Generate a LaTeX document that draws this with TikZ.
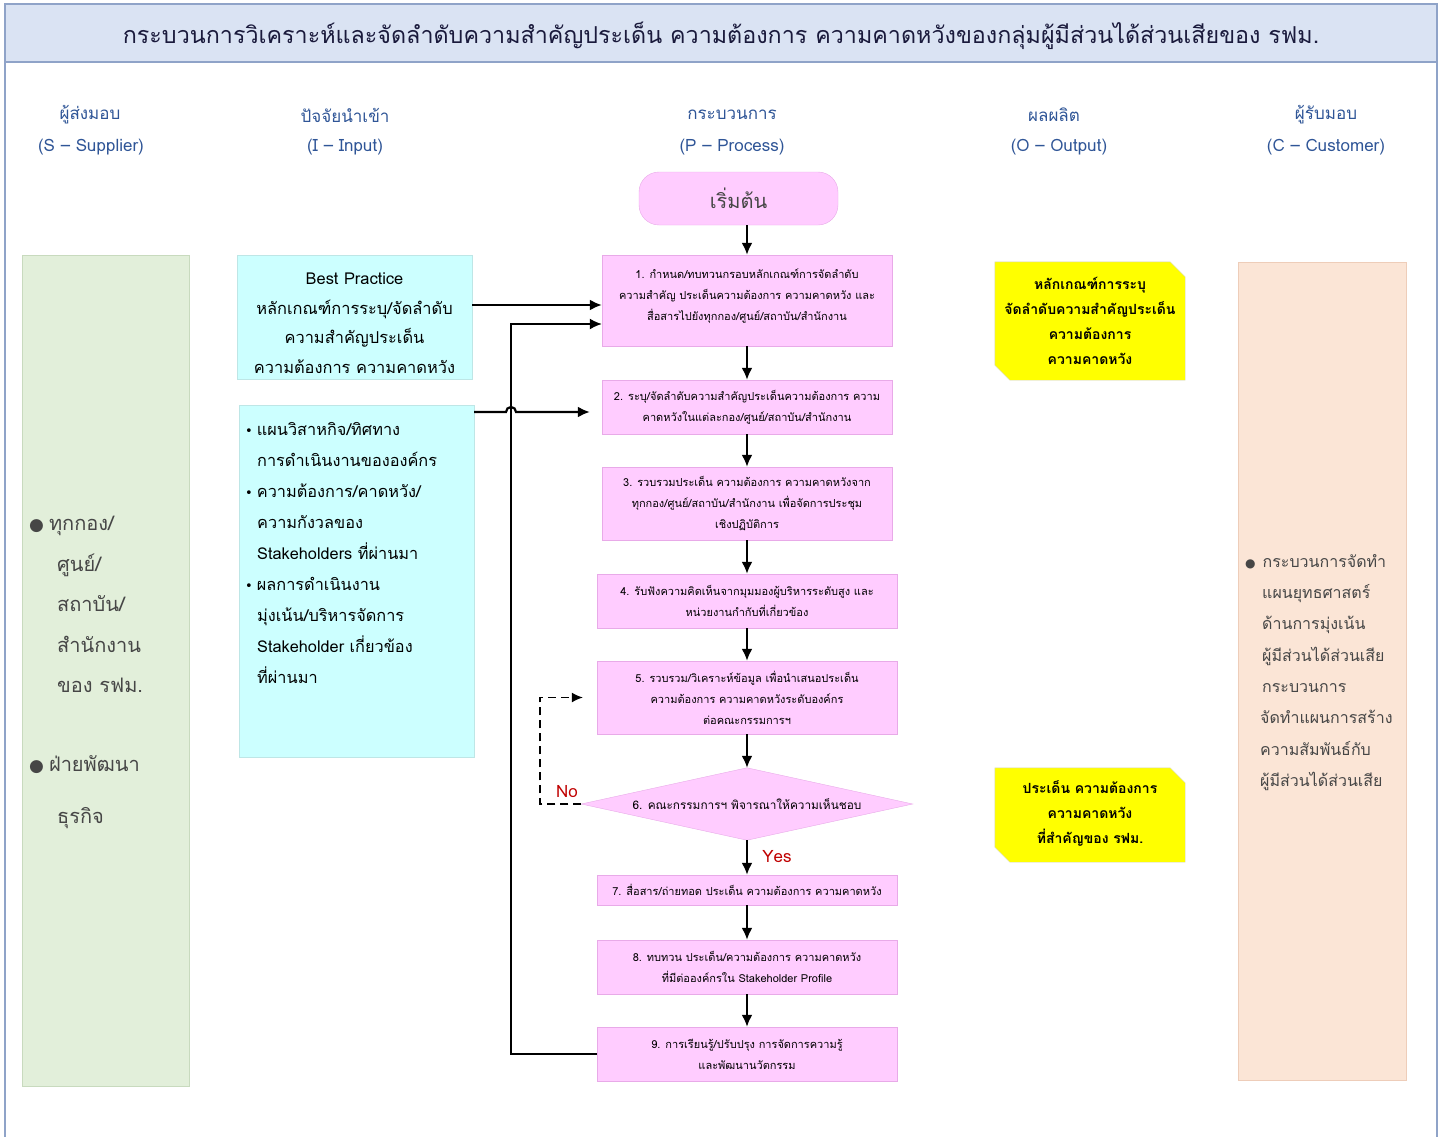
\documentclass[tikz,border=0pt]{standalone}
\usepackage{fontspec}
\setmainfont[Script=Thai]{Loma}
\newfontfamily\symf{DejaVu Sans}
\usetikzlibrary{arrows.meta,shapes.geometric,calc}
\definecolor{titlefill}{RGB}{218,227,243}
\definecolor{framec}{RGB}{143,163,200}
\definecolor{titletext}{RGB}{26,26,60}
\definecolor{headc}{RGB}{47,85,151}
\definecolor{pinkf}{RGB}{255,204,255}
\definecolor{pinkd}{RGB}{232,170,232}
\definecolor{cyanf}{RGB}{204,255,255}
\definecolor{cyand}{RGB}{190,230,230}
\definecolor{greenf}{RGB}{226,239,218}
\definecolor{greend}{RGB}{200,218,190}
\definecolor{peachf}{RGB}{251,229,214}
\definecolor{peachd}{RGB}{238,205,185}
\definecolor{yellowf}{RGB}{255,255,0}
\definecolor{yellowd}{RGB}{215,215,200}
\definecolor{labred}{RGB}{192,0,0}
\definecolor{graytext}{RGB}{70,70,70}
\tikzset{
  pbox/.style={draw=pinkd,fill=pinkf,align=center,inner sep=0pt,font=\fontsize{11}{21}\selectfont},
  head/.style={text=headc,font=\fontsize{17}{20}\selectfont,inner sep=0pt},
  flow/.style={line width=2.2pt,-{Latex[length=12pt,width=11pt]}},
  feed/.style={line width=1.6pt,-{Latex[length=12pt,width=11pt]}},
  nodash/.style={line width=1.3pt,dash pattern=on 8pt off 5pt,-{Latex[length=11pt,width=10pt]}},
  lab/.style={text=labred,font=\fontsize{17}{20}\selectfont,inner sep=0pt},
  outtext/.style={align=center,inner sep=0pt,font=\fontsize{14}{25}\selectfont\bfseries},
}
\begin{document}
\begin{tikzpicture}[x=1pt,y=-1pt]
\useasboundingbox (0,0) rectangle (1442,1137);
\fill[white] (0,0) rectangle (1442,1137);
% frame and title
\fill[titlefill] (5,4) rectangle (1437,62);
\draw[framec,line width=1.2pt] (5,1137) -- (5,4) -- (1437,4) -- (1437,1137);
\draw[framec,line width=1.2pt] (5,62) -- (1437,62);
\node[text=titletext,font=\fontsize{23.3}{26}\selectfont,inner sep=0pt] (title) at (721,36) {กระบวนการวิเคราะห์และจัดลำดับความสำคัญประเด็น ความต้องการ ความคาดหวังของกลุ่มผู้มีส่วนได้ส่วนเสียของ รฟม.};
% headers
\node[head] (hs1) at (90,115) {ผู้ส่งมอบ};
\node[head] (hs2) at (91,147) {(S – Supplier)};
\node[head] (hi1) at (345,115) {ปัจจัยนำเข้า};
\node[head] (hi2) at (345,147) {(I – Input)};
\node[head] (hp1) at (732,115) {กระบวนการ};
\node[head] (hp2) at (732,147) {(P – Process)};
\node[head] (ho1) at (1054,115) {ผลผลิต};
\node[head] (ho2) at (1059,147) {(O – Output)};
\node[head] (hc1) at (1326,115) {ผู้รับมอบ};
\node[head] (hc2) at (1326,147) {(C – Customer)};
% supplier column
\node[draw=greend,fill=greenf,minimum width=167pt,minimum height=831pt,inner sep=0pt] (sup) at (105.5,670.5) {};
\node[anchor=north west,align=left,inner sep=0pt,text=graytext,font=\fontsize{20}{40.5}\selectfont] (suptext) at (29,516) {{\symf\fontsize{17}{40}\selectfont ●}\hspace{5pt}ทุกกอง/\\
\hspace*{28pt}ศูนย์/\\
\hspace*{28pt}สถาบัน/\\
\hspace*{28pt}สำนักงาน\\
\hspace*{28pt}ของ รฟม.\\[38pt]
{\symf\fontsize{17}{40}\selectfont ●}\hspace{5pt}ฝ่ายพัฒนา\\[12pt]
\hspace*{28pt}ธุรกิจ};
% input column
\node[draw=cyand,fill=cyanf,minimum width=235pt,minimum height=124pt,inner sep=0pt] (in1) at (354.5,317) {};
\node[align=center,inner sep=0pt,font=\fontsize{16.4}{29.5}\selectfont] (in1text) at ([yshift=-6pt]in1.center) {Best Practice\\หลักเกณฑ์การระบุ/จัดลำดับ\\ความสำคัญประเด็น\\ความต้องการ ความคาดหวัง};
\node[draw=cyand,fill=cyanf,minimum width=235pt,minimum height=352pt,inner sep=0pt] (in2) at (356.5,581) {};
\node[anchor=north west,align=left,inner sep=0pt,font=\fontsize{16.3}{31}\selectfont] (in2text) at (245,422) {{\symf\fontsize{13}{31}\selectfont •}\hspace{4pt}แผนวิสาหกิจ/ทิศทาง\\
\hspace*{12pt}การดำเนินงานขององค์กร\\
{\symf\fontsize{13}{31}\selectfont •}\hspace{4pt}ความต้องการ/คาดหวัง/\\
\hspace*{12pt}ความกังวลของ\\
\hspace*{12pt}Stakeholders ที่ผ่านมา\\
{\symf\fontsize{13}{31}\selectfont •}\hspace{4pt}ผลการดำเนินงาน\\
\hspace*{12pt}มุ่งเน้น/บริหารจัดการ\\
\hspace*{12pt}Stakeholder เกี่ยวข้อง\\
\hspace*{12pt}ที่ผ่านมา};
% customer column
\node[draw=peachd,fill=peachf,minimum width=168pt,minimum height=818pt,inner sep=0pt] (cus) at (1322,671) {};
\node[anchor=north west,align=left,inner sep=0pt,text=graytext,font=\fontsize{16}{31.3}\selectfont] (custext) at (1245,554) {{\symf\fontsize{12}{31}\selectfont ●}\hspace{7pt}กระบวนการจัดทำ\\
\hspace*{17pt}แผนยุทธศาสตร์\\
\hspace*{17pt}ด้านการมุ่งเน้น\\
\hspace*{17pt}ผู้มีส่วนได้ส่วนเสีย\\
\hspace*{17pt}กระบวนการ\\
\hspace*{15pt}จัดทำแผนการสร้าง\\
\hspace*{15pt}ความสัมพันธ์กับ\\
\hspace*{15pt}ผู้มีส่วนได้ส่วนเสีย};
% output column
\node[minimum width=190pt,minimum height=118pt,inner sep=0pt] (out1) at (1090,321) {};
\fill[yellowf,draw=yellowd] ($(out1.north west)$) -- ($(out1.north east)+(-15,0)$) -- ($(out1.north east)+(0,15)$) -- (out1.south east) -- ($(out1.south west)+(15,0)$) -- ($(out1.south west)+(0,-15)$) -- cycle;
\node[outtext] (out1text) at (out1.center) {หลักเกณฑ์การระบุ\\จัดลำดับความสำคัญประเด็น\\ความต้องการ\\ความคาดหวัง};
\node[minimum width=190pt,minimum height=94pt,inner sep=0pt] (out2) at (1090,815) {};
\fill[yellowf,draw=yellowd] ($(out2.north west)$) -- ($(out2.north east)+(-15,0)$) -- ($(out2.north east)+(0,15)$) -- (out2.south east) -- ($(out2.south west)+(15,0)$) -- ($(out2.south west)+(0,-15)$) -- cycle;
\node[outtext] (out2text) at ([yshift=2pt]out2.center) {ประเด็น ความต้องการ\\ความคาดหวัง\\ที่สำคัญของ รฟม.};
% process column
\node[draw=pinkd,fill=pinkf,rounded corners=20pt,minimum width=199pt,minimum height=53pt,inner sep=0pt,text=graytext,font=\fontsize{20}{24}\selectfont] (start) at (738.5,198.5) {เริ่มต้น};
\node[pbox,minimum width=290pt,minimum height=91pt] (b1) at (747,300.5) {1. กำหนด/ทบทวนกรอบหลักเกณฑ์การจัดลำดับ\\ความสำคัญ ประเด็นความต้องการ ความคาดหวัง และ\\สื่อสารไปยังทุกกอง/ศูนย์/สถาบัน/สำนักงาน\\[-9pt]\mbox{}};
\node[pbox,minimum width=290pt,minimum height=54pt] (b2) at (747,407) {2. ระบุ/จัดลำดับความสำคัญประเด็นความต้องการ ความ\\คาดหวังในแต่ละกอง/ศูนย์/สถาบัน/สำนักงาน};
\node[pbox,minimum width=290pt,minimum height=73pt] (b3) at (747,503.5) {3. รวบรวมประเด็น ความต้องการ ความคาดหวังจาก\\ทุกกอง/ศูนย์/สถาบัน/สำนักงาน เพื่อจัดการประชุม\\เชิงปฏิบัติการ};
\node[pbox,minimum width=300pt,minimum height=54pt] (b4) at (747,601) {4. รับฟังความคิดเห็นจากมุมมองผู้บริหารระดับสูง และ\\หน่วยงานกำกับที่เกี่ยวข้อง};
\node[pbox,minimum width=300pt,minimum height=73pt] (b5) at (747,697.5) {5. รวบรวม/วิเคราะห์ข้อมูล เพื่อนำเสนอประเด็น\\ความต้องการ ความคาดหวังระดับองค์กร\\ต่อคณะกรรมการฯ};
\node[minimum width=331pt,minimum height=72pt,inner sep=0pt] (d6) at (747,804) {};
\filldraw[draw=pinkd,fill=pinkf] (d6.north) -- (d6.east) -- (d6.south) -- (d6.west) -- cycle;
\node[inner sep=0pt,font=\fontsize{11.8}{21}\selectfont] (d6text) at (d6.center) {6. คณะกรรมการฯ พิจารณาให้ความเห็นชอบ};
\node[pbox,minimum width=300pt,minimum height=30pt] (b7) at (747,890) {7. สื่อสาร/ถ่ายทอด ประเด็น ความต้องการ ความคาดหวัง};
\node[pbox,minimum width=300pt,minimum height=54pt] (b8) at (747,967) {8. ทบทวน ประเด็น/ความต้องการ ความคาดหวัง\\ที่มีต่อองค์กรใน Stakeholder Profile};
\node[pbox,minimum width=300pt,minimum height=54pt] (b9) at (747,1054) {9. การเรียนรู้/ปรับปรุง การจัดการความรู้\\และพัฒนานวัตกรรม};
% vertical flow
\draw[flow] (b1.north |- start.south) -- (b1.north);
\draw[flow] (b1.south) -- (b2.north);
\draw[flow] (b2.south) -- (b3.north);
\draw[flow] (b3.south) -- (b4.north);
\draw[flow] (b4.south) -- (b5.north);
\draw[flow] (b5.south) -- (d6.north);
\draw[flow] (d6.south) -- (b7.north);
\draw[flow] (b7.south) -- (b8.north);
\draw[flow] (b8.south) -- (b9.north);
\node[lab] (yes) at (777,857) {Yes};
% no loop
\coordinate (nocorner) at (540,804);
\draw[nodash] (d6.west) -- (nocorner) |- ([xshift=-14pt]b5.west);
\node[lab] (no) at (567,792) {No};
% input arrows
\draw[flow] (in1.east |- 0,305) -- (b1.west |- 0,305);
\coordinate (hop) at (511,412);
\draw[flow] (in2.east |- hop) -- ([xshift=-5pt]hop) arc[start angle=180,end angle=0,radius=5pt] -- ([xshift=-12pt]b2.west |- hop);
% feedback
\coordinate (fbcorner) at (511,1054);
\draw[feed] (b9.west) -- (fbcorner) |- (b1.west |- 0,324);
\end{tikzpicture}
\end{document}
